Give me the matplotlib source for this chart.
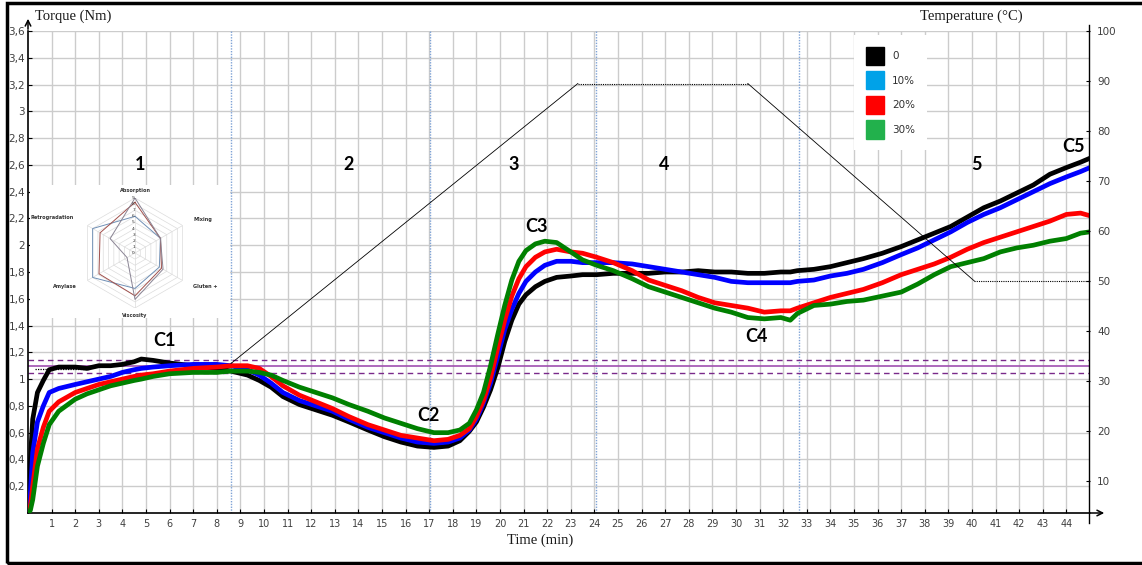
import matplotlib
matplotlib.use('Agg')
import matplotlib.pyplot as plt
import numpy as np
from matplotlib.patches import Patch, Rectangle
from matplotlib.lines import Line2D

# ---------------- data ----------------
TIME = [0, 0.1, 0.2, 0.4, 0.65, 0.9, 1.3, 2.0, 2.5, 3.0, 3.5, 4.0, 4.5, 4.8, 5.3, 6.0, 7.0, 8.0,
        8.6, 9.3, 9.8, 10.3, 10.8, 11.5, 12.2, 12.9, 13.6, 14.4, 15.1, 15.8, 16.5, 17.2, 17.8,
        18.3, 18.7, 19.0, 19.3, 19.6, 19.9, 20.2, 20.5, 20.8, 21.1, 21.5, 21.9, 22.4, 23.0, 23.5,
        24.1, 24.8, 25.6, 26.3, 27.0, 27.7, 28.4, 29.1, 29.8, 30.5, 31.2, 31.9, 32.3, 32.6, 33.3,
        34.0, 34.7, 35.4, 36.2, 37.0, 37.7, 38.4, 39.1, 39.8, 40.5, 41.2, 41.9, 42.6, 43.3, 44.0,
        44.6, 45.0]

TORQUE_0 = [0.0, 0.40, 0.70, 0.90, 0.99, 1.07, 1.09, 1.09, 1.08, 1.10, 1.10, 1.11, 1.13, 1.15, 1.14,
            1.12, 1.10, 1.08, 1.06, 1.03, 0.99, 0.94, 0.87, 0.81, 0.77, 0.73, 0.68, 0.62, 0.57, 0.53,
            0.50, 0.49, 0.50, 0.54, 0.61, 0.68, 0.79, 0.92, 1.08, 1.28, 1.44, 1.56, 1.63, 1.69, 1.73,
            1.76, 1.77, 1.78, 1.78, 1.79, 1.79, 1.79, 1.80, 1.80, 1.81, 1.80, 1.80, 1.79, 1.79, 1.80,
            1.80, 1.81, 1.82, 1.84, 1.87, 1.90, 1.94, 1.99, 2.04, 2.09, 2.14, 2.21, 2.28, 2.33, 2.39,
            2.45, 2.53, 2.58, 2.62, 2.65]

TORQUE_10 = [0.0, 0.15, 0.45, 0.68, 0.80, 0.90, 0.93, 0.96, 0.98, 1.00, 1.02, 1.05, 1.07, 1.08, 1.09,
             1.10, 1.11, 1.11, 1.10, 1.07, 1.03, 0.97, 0.90, 0.84, 0.80, 0.76, 0.70, 0.64, 0.60, 0.56,
             0.53, 0.52, 0.53, 0.56, 0.62, 0.70, 0.82, 0.97, 1.17, 1.37, 1.52, 1.64, 1.73, 1.80, 1.85,
             1.88, 1.88, 1.87, 1.87, 1.87, 1.86, 1.84, 1.82, 1.80, 1.78, 1.76, 1.73, 1.72, 1.72, 1.72,
             1.72, 1.73, 1.74, 1.77, 1.79, 1.82, 1.87, 1.93, 1.98, 2.04, 2.10, 2.17, 2.23, 2.28, 2.34,
             2.40, 2.46, 2.51, 2.55, 2.58]

TORQUE_20 = [0.0, 0.05, 0.20, 0.48, 0.64, 0.76, 0.83, 0.90, 0.93, 0.96, 0.98, 1.00, 1.02, 1.03, 1.04,
             1.06, 1.08, 1.09, 1.10, 1.10, 1.08, 1.02, 0.95, 0.88, 0.83, 0.78, 0.72, 0.66, 0.62, 0.58,
             0.56, 0.54, 0.55, 0.58, 0.63, 0.72, 0.84, 1.01, 1.23, 1.44, 1.62, 1.75, 1.84, 1.91, 1.95,
             1.97, 1.95, 1.94, 1.91, 1.87, 1.81, 1.74, 1.70, 1.66, 1.61, 1.57, 1.55, 1.53, 1.50, 1.51,
             1.51, 1.53, 1.57, 1.61, 1.64, 1.67, 1.72, 1.78, 1.82, 1.86, 1.91, 1.97, 2.02, 2.06, 2.10,
             2.14, 2.18, 2.23, 2.24, 2.22]

TORQUE_30 = [0.0, 0.02, 0.10, 0.35, 0.52, 0.66, 0.76, 0.85, 0.89, 0.92, 0.95, 0.97, 0.99, 1.00, 1.02,
             1.04, 1.05, 1.05, 1.06, 1.06, 1.05, 1.03, 0.99, 0.94, 0.90, 0.86, 0.81, 0.76, 0.71, 0.67,
             0.63, 0.60, 0.60, 0.62, 0.67, 0.77, 0.90, 1.10, 1.33, 1.55, 1.74, 1.88, 1.96, 2.01, 2.03,
             2.02, 1.95, 1.89, 1.85, 1.81, 1.75, 1.69, 1.65, 1.61, 1.57, 1.53, 1.50, 1.46, 1.45, 1.46,
             1.44, 1.49, 1.55, 1.56, 1.58, 1.59, 1.62, 1.65, 1.71, 1.78, 1.84, 1.87, 1.90, 1.95, 1.98,
             2.00, 2.03, 2.05, 2.09, 2.10]

SERIES_LABELS = ['0', '10%', '20%', '30%']
LINE_COLORS = ['#000000', '#0000ff', '#ff0000', '#008000']
LEGEND_COLORS = ['#000000', '#00a2e8', '#ff0000', '#22b14c']

TEMP_TIME = [8.6, 23.3, 30.5, 40.1, 45.0]
TEMP_VALUES = [33.5, 89.5, 89.5, 50.0, 50.0]

PHASE_LINES = [8.6, 17.05, 24.05, 32.65]
TARGET_TORQUE = 1.1
TOLERANCE = [1.143, 1.045]

PHASE_LABELS = ['1', '2', '3', '4', '5']
PHASE_X = [4.75, 13.6, 20.6, 26.95, 40.2]
PHASE_Y = 2.6

POINT_LABELS = ['C1', 'C2', 'C3', 'C4', 'C5']
POINT_X = [5.8, 16.95, 21.55, 30.85, 44.3]
POINT_Y = [1.29, 0.73, 2.14, 1.32, 2.74]

TORQUE_TICKS = [0.2, 0.4, 0.6, 0.8, 1.0, 1.2, 1.4, 1.6, 1.8, 2.0, 2.2, 2.4, 2.6, 2.8, 3.0, 3.2, 3.4, 3.6]
TORQUE_TICK_LABELS = ['0,2', '0,4', '0,6', '0,8', '1', '1,2', '1,4', '1,6', '1,8', '2', '2,2', '2,4',
                      '2,6', '2,8', '3', '3,2', '3,4', '3,6']
TEMP_TICKS = [10, 20, 30, 40, 50, 60, 70, 80, 90, 100]
TIME_TICKS = list(range(1, 45))

RADAR_AXES = ['Absorption', 'Mixing', 'Gluten +', 'Viscosity', 'Amylase', 'Retrogradation']
RADAR_A = [6.0, 4.8, 4.6, 5.8, 8.0, 8.0]
RADAR_B = [8.3, 4.8, 5.0, 7.0, 6.8, 6.6]
RADAR_C = [9.0, 4.8, 5.3, 7.6, 1.5, 4.7]
RADAR_COLORS = ['#6f8fb5', '#a0504c', '#8a8494']

# ---------------- figure ----------------
W, H = 1142, 565
fig = plt.figure(figsize=(W / 100, H / 100), dpi=100)
fig.patch.set_facecolor('white')


def fx(px):
    return px / W


def fy(py):
    return 1 - py / H


ax = fig.add_axes([fx(28), fy(513), fx(1090) - fx(28), fy(31) - fy(513)])
ax.set_xlim(0, 45)
ax.set_ylim(0, 3.6)
ax.set_xticks(TIME_TICKS)
ax.set_xticklabels([str(t) for t in TIME_TICKS])
ax.set_yticks(TORQUE_TICKS)
ax.set_yticklabels(TORQUE_TICK_LABELS)
ax.grid(True, color='#cccccc', lw=1.0)
ax.set_axisbelow(True)
ax.tick_params(axis='x', direction='in', length=3, width=0.8, labelsize=7, labelcolor='#404040', pad=4)
ax.tick_params(axis='y', direction='in', length=3, width=0.8, labelsize=7.5, labelcolor='#404040', pad=2)
for lab in ax.get_xticklabels() + ax.get_yticklabels():
    lab.set_family('DejaVu Sans')
ax.spines['top'].set_visible(False)
ax.spines['right'].set_visible(False)
ax.spines['left'].set_linewidth(1.2)
ax.spines['bottom'].set_linewidth(1.2)

for xv in PHASE_LINES:
    ax.axvline(xv, color='#7fa3d6', lw=1.0, ls=(0, (1, 1)), zorder=1.5)

ax.axhline(TARGET_TORQUE, color='#a050b0', lw=1.2, zorder=1.6)
for yv in TOLERANCE:
    ax.axhline(yv, color='#7a2a8a', lw=1.0, ls=(0, (4, 3)), zorder=1.6)
ax.plot([0.3, 2.6], [1.075, 1.075], color='black', lw=0.9, ls=(0, (1, 1)), zorder=1.7)

for vals, col in zip([TORQUE_0, TORQUE_10, TORQUE_20, TORQUE_30], LINE_COLORS):
    ax.plot(TIME, vals, color=col, lw=3.4, solid_joinstyle='round', zorder=3)

for lab, xv in zip(PHASE_LABELS, PHASE_X):
    ax.text(xv, PHASE_Y, lab, fontsize=13, fontweight='bold', family='Lato',
            ha='center', va='center', zorder=5)
for lab, xv, yv in zip(POINT_LABELS, POINT_X, POINT_Y):
    ax.text(xv, yv, lab, fontsize=13, fontweight='bold', family='Lato',
            ha='center', va='center', zorder=5)

# temperature axis
ax2 = ax.twinx()
ax2.set_ylim(3.6, 100)
ax2.set_yticks(TEMP_TICKS)
ax2.set_yticklabels([str(v) for v in TEMP_TICKS])
ax2.tick_params(axis='y', direction='in', length=3, width=0.8, labelsize=7.5, labelcolor='#404040', pad=5)
for lab in ax2.get_yticklabels():
    lab.set_family('DejaVu Sans')
for s in ax2.spines.values():
    s.set_visible(False)
ax2.plot(TEMP_TIME[0:2], TEMP_VALUES[0:2], color='black', lw=0.6)
ax2.plot(TEMP_TIME[1:3], TEMP_VALUES[1:3], color='black', lw=0.8, ls=(0, (1, 1)))
ax2.plot(TEMP_TIME[2:4], TEMP_VALUES[2:4], color='black', lw=0.6)
ax2.plot(TEMP_TIME[3:5], TEMP_VALUES[3:5], color='black', lw=0.8, ls=(0, (1, 1)))

handles = [Patch(facecolor=c, edgecolor=c) for c in LEGEND_COLORS]
leg = ax2.legend(handles, SERIES_LABELS, loc='upper left',
                 bbox_to_anchor=(fx(849), fy(30)), bbox_transform=fig.transFigure,
                 fontsize=7.5, handlelength=1.75, handleheight=2.3, handletextpad=0.8,
                 labelspacing=0.62, borderpad=1.1, frameon=True, fancybox=False,
                 framealpha=1.0, edgecolor='white', facecolor='white')
leg.get_frame().set_linewidth(0)
for t in leg.get_texts():
    t.set_color('#303030')
    t.set_family('DejaVu Sans')

# extra axis lines / arrows / frame
fig.add_artist(Line2D([fx(1089), fx(1089)], [fy(25), fy(523)], color='black', lw=1.0))
ax.annotate('', xy=(fx(28), fy(16)), xytext=(fx(28), fy(32)), xycoords='figure fraction',
            arrowprops=dict(arrowstyle='->', lw=1.1, color='black', mutation_scale=10))
ax.annotate('', xy=(fx(1107), fy(513)), xytext=(fx(1088), fy(513)), xycoords='figure fraction',
            arrowprops=dict(arrowstyle='->', lw=1.1, color='black', mutation_scale=10))
fig.add_artist(Rectangle((fx(7), fy(563)), fx(1170) - fx(7), fy(3) - fy(563),
                         transform=fig.transFigure, fill=False, lw=2.5, ec='black'))

fig.text(fx(35), fy(16), 'Torque (Nm)', family='Liberation Serif', fontsize=10.5,
         ha='left', va='center', color='#1a1a1a')
fig.text(fx(920), fy(16), 'Temperature (°C)', family='Liberation Serif', fontsize=10.5,
         ha='left', va='center', color='#1a1a1a')
fig.text(fx(540), fy(540), 'Time (min)', family='Liberation Serif', fontsize=10.5,
         ha='center', va='center', color='#1a1a1a')

# radar inset (white background)
bg = fig.add_axes([fx(30), fy(318), fx(230) - fx(30), fy(185) - fy(318)])
bg.set_facecolor('white')
bg.set_xticks([])
bg.set_yticks([])
for s in bg.spines.values():
    s.set_visible(False)

rad = fig.add_axes([fx(80), fy(308), fx(190) - fx(80), fy(198) - fy(308)], projection='polar')
rad.set_theta_zero_location('N')
rad.set_theta_direction(-1)
rad.set_ylim(0, 9)
rad.grid(False)
rad.spines['polar'].set_visible(False)
rad.set_xticks([])
rad.set_yticks([])
rad.patch.set_alpha(0)
angles = np.linspace(0, 2 * np.pi, len(RADAR_AXES), endpoint=False)
closed = np.concatenate([angles, angles[:1]])
for ring in range(1, 10):
    rad.plot(closed, [ring] * len(closed), color='#dcdcdc', lw=0.5)
for a in angles:
    rad.plot([a, a], [0, 9], color='#dcdcdc', lw=0.5)
for vals, col in zip([RADAR_A, RADAR_B, RADAR_C], RADAR_COLORS):
    rad.plot(closed, list(vals) + [vals[0]], color=col, lw=0.7)
for i in range(10):
    rad.text(0, i, str(i), fontsize=3.2, ha='right', va='center', color='#333333')
label_r = [10.3, 11.0, 11.0, 10.3, 11.0, 11.5]
label_ha = ['center', 'left', 'left', 'center', 'right', 'right']
for a, name, r, ha in zip(angles, RADAR_AXES, label_r, label_ha):
    rad.text(a, r, name, fontsize=3.6, fontweight='bold', ha=ha, va='center', color='#333333')

fig.savefig('out.png', dpi=100)
